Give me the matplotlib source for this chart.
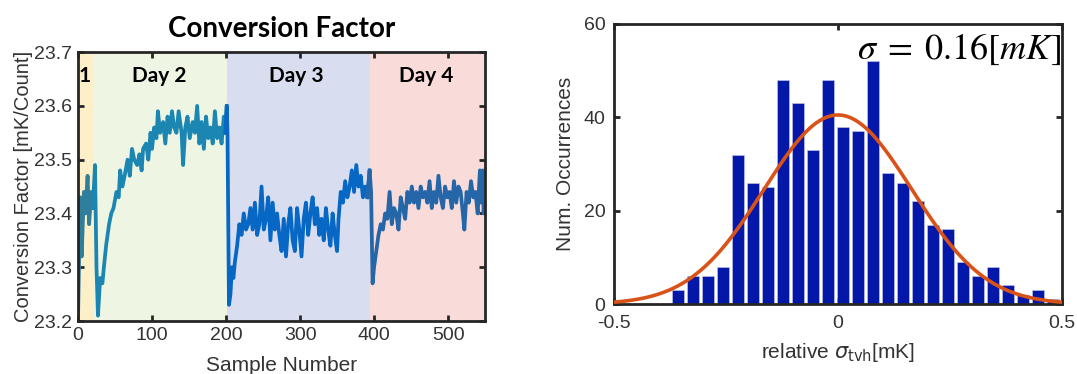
import numpy as np
import matplotlib.pyplot as plt

# left panel: conversion factor vs sample number
sample = [0, 3, 5, 8, 10, 13, 15, 18, 20, 23,
          25, 27, 30, 33, 35, 38, 42, 45, 48, 52, 55, 57, 60, 63, 67, 70, 73, 76,
          80, 83, 86, 88, 92, 95, 98, 100, 103, 106, 108, 111, 115, 118, 121, 124,
          127, 130, 133, 136, 140, 142, 145, 148, 151, 155, 158, 161, 164, 167,
          170, 173, 176, 179, 182, 185, 188, 191, 194, 197, 199, 201, 202,
          204, 206, 208, 210, 212, 215, 218, 221, 224, 227, 230, 233, 236, 239,
          242, 245, 248, 251, 254, 257, 260, 263, 266, 269, 272, 275, 278, 281,
          284, 287, 290, 293, 296, 299, 302, 305, 308, 311, 314, 317, 320, 323,
          326, 329, 332, 335, 338, 341, 344, 347, 350, 352, 355, 358, 361, 364,
          367, 370, 373, 376, 379, 382, 385, 388, 391, 394, 396,
          398, 400, 403, 406, 409, 412, 415, 418, 421, 424, 427, 430, 433, 436,
          439, 442, 445, 448, 451, 454, 457, 460, 463, 466, 469, 472, 475, 478,
          481, 484, 487, 490, 493, 496, 499, 502, 505, 508, 511, 514, 517, 520,
          522, 525, 528, 531, 534, 537, 540, 543, 545, 547, 548, 550]
factor = [23.20, 23.43, 23.32, 23.44, 23.40, 23.47, 23.38, 23.44, 23.41, 23.49,
          23.30, 23.21, 23.28, 23.27, 23.30, 23.34, 23.38, 23.40, 23.41, 23.44,
          23.43, 23.48, 23.45, 23.47, 23.50, 23.47, 23.52, 23.50, 23.49, 23.51,
          23.48, 23.52, 23.53, 23.50, 23.55, 23.52, 23.56, 23.54, 23.59, 23.55,
          23.57, 23.53, 23.58, 23.55, 23.59, 23.56, 23.55, 23.59, 23.55, 23.49,
          23.56, 23.58, 23.54, 23.57, 23.55, 23.60, 23.53, 23.57, 23.52, 23.58,
          23.54, 23.56, 23.53, 23.59, 23.54, 23.56, 23.53, 23.58, 23.55, 23.60,
          23.55,
          23.23, 23.25, 23.30, 23.28, 23.31, 23.34, 23.38, 23.36, 23.40, 23.37,
          23.38, 23.41, 23.37, 23.42, 23.36, 23.38, 23.45, 23.37, 23.39, 23.43,
          23.35, 23.42, 23.37, 23.40, 23.36, 23.33, 23.39, 23.32, 23.38, 23.41,
          23.35, 23.33, 23.41, 23.37, 23.32, 23.39, 23.42, 23.36, 23.40, 23.43,
          23.38, 23.41, 23.36, 23.39, 23.35, 23.41, 23.37, 23.34, 23.40, 23.36,
          23.33, 23.39, 23.44, 23.42, 23.46, 23.43, 23.45, 23.48, 23.44, 23.49,
          23.45, 23.47, 23.43, 23.45, 23.43, 23.48, 23.44,
          23.27, 23.30, 23.33, 23.36, 23.38, 23.37, 23.40, 23.39, 23.44, 23.38,
          23.41, 23.40, 23.37, 23.43, 23.41, 23.39, 23.44, 23.42, 23.45, 23.42,
          23.44, 23.41, 23.45, 23.43, 23.44, 23.42, 23.46, 23.41, 23.44, 23.42,
          23.47, 23.43, 23.41, 23.45, 23.43, 23.44, 23.41, 23.46, 23.42, 23.45,
          23.44, 23.40, 23.37, 23.44, 23.42, 23.46, 23.43, 23.44, 23.40, 23.48,
          23.42, 23.48, 23.40, 23.45]

day_labels = ["1", "Day 2", "Day 3", "Day 4"]
day_edges = [0, 22, 201, 394, 550]
day_bg = ["#fdf0c9", "#eef6e3", "#d9ddf0", "#f9dcda"]
day_line = ["#2f7f9c", "#1b86b2", "#0767c4", "#2466a8"]

# right panel: histogram of relative sigma_tvh
bin_start = -0.357
bin_width = 0.0335
counts = [3, 6, 6, 8, 32, 26, 25, 48, 43, 33, 48, 38, 37, 52, 28, 26, 22, 17,
          16, 9, 6, 8, 4, 2, 3, 1]
fit_mu, fit_sigma, fit_peak = 0.0, 0.165, 40.5

spine_col = "#262626"
txt_col = "#333333"
bold_fam = ['Lato', 'DejaVu Sans']
plt.rcParams['font.family'] = ['Liberation Sans', 'DejaVu Sans']

fig = plt.figure(figsize=(10.77, 3.74), dpi=100)

# ---------- left ----------
ax1 = fig.add_axes([0.0724, 0.1417, 0.378, 0.719])
sample = np.array(sample)
factor = np.array(factor)
for i in range(4):
    lo, hi = day_edges[i], day_edges[i + 1]
    ax1.axvspan(lo, hi, color=day_bg[i], lw=0, zorder=0)
    # include the last point of the previous day so the drop is drawn
    idx = np.where((sample >= lo) & (sample <= hi))[0]
    if i > 0:
        idx = np.concatenate([[idx[0] - 1], idx])
    ax1.plot(sample[idx], factor[idx], color=day_line[i], lw=2.7, zorder=2)
    xc = 9 if i == 0 else (lo + hi) / 2 - 2
    ax1.text(xc, 23.655, day_labels[i], ha='center', va='center',
             fontsize=15, fontweight='bold', family=bold_fam)

ax1.set_xlim(0, 550)
ax1.set_ylim(23.2, 23.7)
ax1.set_xticks([0, 100, 200, 300, 400, 500])
ax1.set_yticks([23.2, 23.3, 23.4, 23.5, 23.6, 23.7])
ax1.set_yticklabels(["23.2", "23.3", "23.4", "23.5", "23.6", "23.7"])
ax1.set_xlabel("Sample Number", fontsize=15, color=txt_col, labelpad=9)
ax1.set_ylabel("Conversion Factor [mK/Count]", fontsize=14.5, color=txt_col, labelpad=1)
ax1.set_title("Conversion Factor", fontsize=20, fontweight='bold',
              family=bold_fam, pad=11)

# ---------- right ----------
ax2 = fig.add_axes([0.570, 0.187, 0.416, 0.749])
centers = bin_start + bin_width * np.arange(len(counts))
ax2.bar(centers, counts, width=bin_width * 0.8, color="#0318a9",
        edgecolor="#c8cce8", linewidth=0.4, zorder=2)
xs = np.linspace(-0.5, 0.5, 400)
ax2.plot(xs, fit_peak * np.exp(-(xs - fit_mu) ** 2 / (2 * fit_sigma ** 2)),
         color="#d95319", lw=2.6, zorder=3)
ax2.set_xlim(-0.5, 0.5)
ax2.set_ylim(0, 60)
ax2.set_xticks([-0.5, 0, 0.5])
ax2.set_xticklabels(["-0.5", "0", "0.5"])
ax2.set_yticks([0, 20, 40, 60])
ax2.set_xlabel(r"relative $\sigma_{\mathsf{tvh}}$[mK]", fontsize=15,
               color=txt_col, labelpad=6)
ax2.set_ylabel("Num. Occurrences", fontsize=15, color=txt_col, labelpad=6)
ax2.text(0.497, 54.5, r"$\sigma\;=\;0.16\left[mK\right]$", ha='right', va='center',
         fontsize=26, math_fontfamily='stix', zorder=4)

for ax in (ax1, ax2):
    for s in ax.spines.values():
        s.set_linewidth(2)
        s.set_color(spine_col)
    ax.tick_params(direction='in', top=True, right=True, length=4, width=2,
                   color=spine_col, labelsize=14, labelcolor=txt_col, pad=4)
ax2.tick_params(axis='x', pad=8)
ax2.tick_params(axis='y', pad=6)

fig.savefig("out.png", dpi=100)
